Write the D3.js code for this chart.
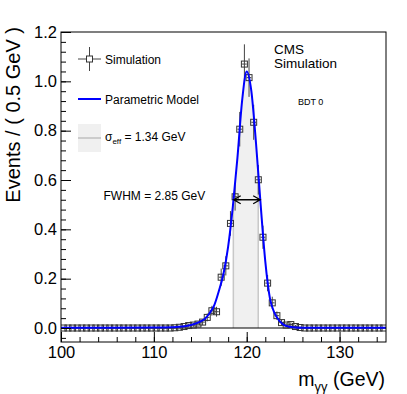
<!DOCTYPE html>
<html>
<head>
<meta charset="utf-8">
<script src="https://cdn.jsdelivr.net/npm/d3@7"></script>
<style>
body { margin: 0; background: #fff; }
text { font-family: "Liberation Sans", Arial, Helvetica, sans-serif; fill: #000; }
</style>
</head>
<body>
<svg id="chart" width="407" height="394"></svg>
<script>
// simulated histogram, 0.5 GeV bins from 100 to 135
var binLo = 100, binWidth = 0.5;
var simValues = [
    0, 0, 0, 0, 0, 0, 0, 0, 0, 0, 0, 0, 0, 0, 0, 0, 0, 0, 0, 0, 0, 0, 0, 0,
    0.001, 0.003, 0.006, 0.010, 0.012, 0.016, 0.024, 0.043, 0.070, 0.066,
    0.206, 0.252, 0.424, 0.532, 0.806, 1.070, 1.015, 0.834, 0.601, 0.368,
    0.182, 0.102, 0.050, 0.022, 0.012, 0.014, 0.006, 0.002, 0,
    0, 0, 0, 0, 0, 0, 0, 0, 0, 0, 0, 0, 0, 0, 0, 0, 0
];
var simErrors = [
    0, 0, 0, 0, 0, 0, 0, 0, 0, 0, 0, 0, 0, 0, 0, 0, 0, 0, 0, 0, 0, 0, 0, 0,
    0.003, 0.004, 0.006, 0.008, 0.0085, 0.0095, 0.012, 0.016, 0.020, 0.020,
    0.035, 0.039, 0.050, 0.056, 0.070, 0.080, 0.078, 0.071, 0.060, 0.047,
    0.033, 0.025, 0.017, 0.0115, 0.0085, 0.009, 0.006, 0.0035, 0,
    0, 0, 0, 0, 0, 0, 0, 0, 0, 0, 0, 0, 0, 0, 0, 0, 0
];

// parametric model
var modelX = [100, 105, 110, 112, 113, 114, 115, 115.5, 116, 116.5, 117, 117.5, 118, 118.5,
              119, 119.5, 120, 120.5, 121, 121.5, 122, 122.5, 123, 123.5, 124, 124.5, 125,
              126, 128, 135];
var modelY = [0.001, 0.001, 0.002, 0.003, 0.006, 0.012, 0.026, 0.038, 0.060, 0.092, 0.15,
              0.22, 0.33, 0.49, 0.69, 0.92, 1.04, 0.96, 0.75, 0.50, 0.27, 0.12, 0.06, 0.03,
              0.013, 0.006, 0.003, 0.001, 0.001, 0.001];

var sigmaEffBand = [118.56, 121.24];
var fwhmRange = [118.6, 121.45];
var fwhmHeight = 0.52;

var xTicks = [100, 110, 120, 130];
var yTicks = [0, 0.2, 0.4, 0.6, 0.8, 1.0, 1.2];

var frame = { left: 61, right: 386, top: 32, bottom: 342 };

var svg = d3.select('#chart');

var x = d3.scaleLinear().domain([100, 135]).range([frame.left, frame.right]);
var y = d3.scaleLinear().domain([-0.0567, 1.2]).range([frame.bottom, frame.top]);

var points = simValues.map(function(v, i) {
    return { x: binLo + binWidth * (i + 0.5), v: v, e: simErrors[i] };
});
var model = modelX.map(function(d, i) { return { x: d, y: modelY[i] }; });

svg.append('clipPath').attr('id', 'plotClip')
    .append('rect')
    .attr('x', frame.left).attr('y', frame.top)
    .attr('width', frame.right - frame.left).attr('height', frame.bottom - frame.top);

var plot = svg.append('g').attr('clip-path', 'url(#plotClip)');

// sigma_eff band: area under the model between the band edges
var area = d3.area()
    .x(function(d) { return x(d.x); })
    .y0(y(0))
    .y1(function(d) { return y(d.y); })
    .curve(d3.curveMonotoneX);

svg.append('clipPath').attr('id', 'bandClip')
    .append('rect')
    .attr('x', x(sigmaEffBand[0])).attr('y', frame.top)
    .attr('width', x(sigmaEffBand[1]) - x(sigmaEffBand[0]))
    .attr('height', frame.bottom - frame.top);

svg.append('clipPath').attr('id', 'underCurve')
    .append('path').attr('d', area(model));

plot.append('path')
    .attr('d', area(model))
    .attr('clip-path', 'url(#bandClip)')
    .attr('fill', '#f0f0f0');

var edges = plot.append('g').attr('clip-path', 'url(#underCurve)');
sigmaEffBand.forEach(function(b) {
    edges.append('line')
        .attr('x1', x(b)).attr('x2', x(b))
        .attr('y1', y(0)).attr('y2', frame.top)
        .attr('stroke', '#c8c8c8').attr('stroke-width', 1.5);
});

// zero line
plot.append('line')
    .attr('x1', frame.left).attr('x2', frame.right)
    .attr('y1', y(0)).attr('y2', y(0))
    .attr('stroke', '#000').attr('stroke-width', 1);

// simulation points
var pts = plot.append('g').attr('class', 'points');

pts.selectAll('line.ex')
    .data(points)
    .enter()
    .append('line')
    .attr('class', 'ex')
    .attr('x1', function(d) { return x(d.x - binWidth / 2); })
    .attr('x2', function(d) { return x(d.x + binWidth / 2); })
    .attr('y1', function(d) { return y(d.v); })
    .attr('y2', function(d) { return y(d.v); })
    .attr('stroke', '#444').attr('stroke-width', 1);

pts.selectAll('line.ey')
    .data(points.filter(function(d) { return d.e > 0; }))
    .enter()
    .append('line')
    .attr('class', 'ey')
    .attr('x1', function(d) { return x(d.x); })
    .attr('x2', function(d) { return x(d.x); })
    .attr('y1', function(d) { return y(d.v - d.e); })
    .attr('y2', function(d) { return y(d.v + d.e); })
    .attr('stroke', '#444').attr('stroke-width', 1);

pts.selectAll('rect')
    .data(points)
    .enter()
    .append('rect')
    .attr('x', function(d) { return x(d.x) - 3; })
    .attr('y', function(d) { return y(d.v) - 3; })
    .attr('width', 6).attr('height', 6)
    .attr('fill', 'none')
    .attr('stroke', '#333').attr('stroke-width', 1);

// model curve
var line = d3.line()
    .x(function(d) { return x(d.x); })
    .y(function(d) { return y(d.y); })
    .curve(d3.curveMonotoneX);

plot.append('path')
    .attr('d', line(model))
    .attr('fill', 'none')
    .attr('stroke', '#0000ff')
    .attr('stroke-width', 2);

// FWHM arrow
var ay = y(fwhmHeight), ax0 = x(fwhmRange[0]), ax1 = x(fwhmRange[1]);
svg.append('path')
    .attr('d', 'M' + ax0 + ',' + ay + 'L' + ax1 + ',' + ay +
               'M' + (ax0 + 7) + ',' + (ay - 4) + 'L' + ax0 + ',' + ay + 'L' + (ax0 + 7) + ',' + (ay + 4) +
               'M' + (ax1 - 7) + ',' + (ay - 4) + 'L' + ax1 + ',' + ay + 'L' + (ax1 - 7) + ',' + (ay + 4))
    .attr('fill', 'none').attr('stroke', '#000').attr('stroke-width', 1.3);

// axes
var yAxis = d3.axisLeft(y).tickValues(yTicks).tickSize(-10).tickPadding(4)
    .tickFormat(d3.format('.1f'));
var yMinor = d3.axisLeft(y).tickValues(d3.range(-0.04, 1.2, 0.04)).tickSize(-5).tickFormat('');
var xAxis = d3.axisBottom(x).tickValues(xTicks).tickSize(-10).tickPadding(4)
    .tickFormat(d3.format('d'));
var xMinor = d3.axisBottom(x).tickValues(d3.range(100, 135.1, 2)).tickSize(-5).tickFormat('');

function styleAxis(g) {
    g.select('.domain').remove();
    g.selectAll('line').attr('stroke', '#000');
    g.selectAll('text').attr('font-size', '16.5px').attr('fill', '#000')
        .attr('font-family', '"Liberation Sans", Arial, sans-serif');
}

svg.append('g').attr('transform', 'translate(' + frame.left + ',0)').call(yMinor).call(styleAxis);
svg.append('g').attr('transform', 'translate(' + frame.left + ',0)').call(yAxis).call(styleAxis);
svg.append('g').attr('transform', 'translate(0,' + frame.bottom + ')').call(xMinor).call(styleAxis);
svg.append('g').attr('transform', 'translate(0,' + frame.bottom + ')').call(xAxis).call(styleAxis);

svg.append('rect')
    .attr('x', frame.left).attr('y', frame.top)
    .attr('width', frame.right - frame.left).attr('height', frame.bottom - frame.top)
    .attr('fill', 'none').attr('stroke', '#000').attr('stroke-width', 1);

// axis titles
svg.append('text')
    .attr('transform', 'translate(19.5,' + (frame.top - 5) + ') rotate(-90)')
    .attr('text-anchor', 'end')
    .attr('font-size', '20px')
    .text('Events / ( 0.5 GeV )');

var xt = svg.append('text')
    .attr('x', 385).attr('y', 386)
    .attr('text-anchor', 'end')
    .attr('font-size', '19.5px');
xt.append('tspan').text('m');
xt.append('tspan').attr('font-size', '13px').attr('dy', 5).text('γγ');
xt.append('tspan').attr('dy', -5).text(' (GeV)');

// legend
var leg = svg.append('g');
leg.append('line').attr('x1', 78).attr('x2', 101).attr('y1', 59).attr('y2', 59)
    .attr('stroke', '#444');
leg.append('line').attr('x1', 89.5).attr('x2', 89.5).attr('y1', 47).attr('y2', 71)
    .attr('stroke', '#444');
leg.append('rect').attr('x', 86.5).attr('y', 56).attr('width', 6).attr('height', 6)
    .attr('fill', '#fff').attr('stroke', '#333');
leg.append('text').attr('x', 105).attr('y', 63.5).attr('font-size', '12px').text('Simulation');

leg.append('line').attr('x1', 78).attr('x2', 101).attr('y1', 99).attr('y2', 99)
    .attr('stroke', '#0000ff').attr('stroke-width', 2);
leg.append('text').attr('x', 105).attr('y', 103.5).attr('font-size', '12px').text('Parametric Model');

leg.append('rect').attr('x', 78).attr('y', 124).attr('width', 23).attr('height', 28)
    .attr('fill', '#f0f0f0');
leg.append('line').attr('x1', 78).attr('x2', 101).attr('y1', 138).attr('y2', 138)
    .attr('stroke', '#c0c0c0').attr('stroke-width', 1.5);
var st = leg.append('text').attr('x', 105).attr('y', 141).attr('font-size', '12px');
st.append('tspan').text('σ');
st.append('tspan').attr('font-size', '8px').attr('dy', 3).text('eff');
st.append('tspan').attr('dy', -3).text(' = 1.34 GeV');

svg.append('text').attr('x', 103.5).attr('y', 200).attr('font-size', '12px').text('FWHM = 2.85 GeV');

// CMS label, two lines
var cms = svg.append('text').attr('x', 274).attr('y', 54).attr('font-size', '13.5px');
cms.append('tspan').attr('x', 274).text('CMS');
cms.append('tspan').attr('x', 274).attr('dy', 13.5).text('Simulation');
svg.append('text').attr('x', 298).attr('y', 105).attr('font-size', '9px').text('BDT 0');
</script>
</body>
</html>
